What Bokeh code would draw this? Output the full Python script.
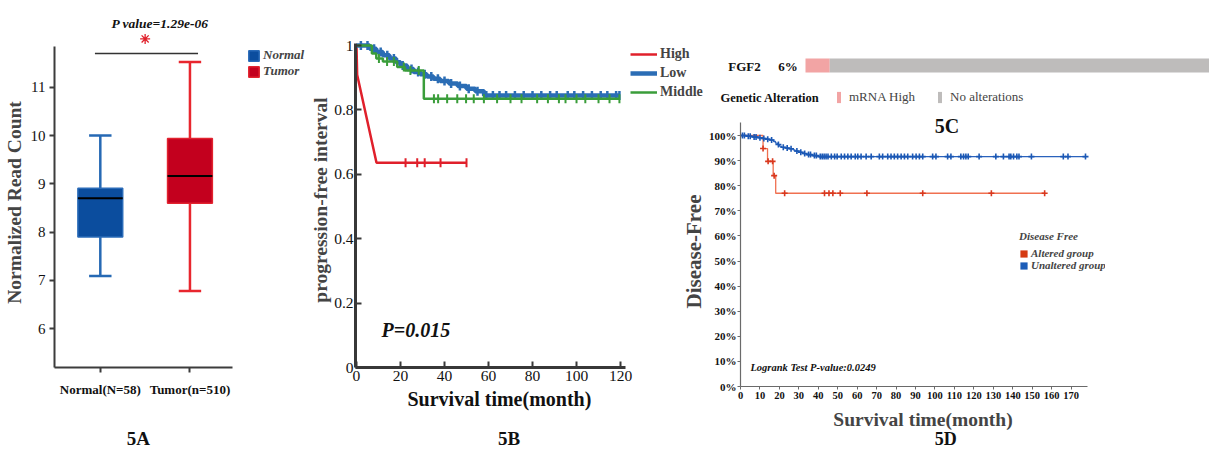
import numpy as np
from bokeh.plotting import figure
from bokeh.models import (Range1d, FixedTicker, Legend, LegendItem, Label, Title,
                          GridBox, ColumnDataSource, PrintfTickFormatter)
from bokeh.embed import file_html
from bokeh.resources import INLINE

SERIF = "Liberation Serif"

# ---------------- 5A: FGF2 expression, normal vs tumour ----------------
expr_groups = ["Normal(N=58)", "Tumor(n=510)"]
expr_names = ["Normal", "Tumor"]
expr_whisker_low = [7.09, 6.78]
expr_q1 = [7.90, 8.60]
expr_median = [8.70, 9.16]
expr_q3 = [8.91, 9.94]
expr_whisker_high = [10.0, 11.52]
expr_yticks = [6, 7, 8, 9, 10, 11]
expr_pvalue = "1.29e-06"

# ---------------- 5B: progression-free interval by FGF2 level ----------------
pfi_high_t = [0, 0.3, 9.1, 50.2]
pfi_high_s = [1.0, 0.909, 0.636, 0.636]
pfi_high_cens = [22.3, 27.6, 31.0, 38.2, 50.0]
pfi_low_t = [0, 6, 9, 12, 15, 18, 20, 23, 26, 29, 32, 35, 38, 42, 46, 50, 54, 58, 119.5]
pfi_low_s = [1.0, 0.99, 0.98, 0.97, 0.96, 0.948, 0.938, 0.927, 0.918, 0.911, 0.904,
             0.897, 0.89, 0.882, 0.874, 0.866, 0.858, 0.845, 0.845]
pfi_low_cens = [2, 5, 8, 11, 14, 17, 21, 25, 28, 31, 34, 37, 40, 43, 47, 51, 55, 59, 62,
                65, 68, 72, 76, 80, 84, 88, 91, 96, 99, 103, 107, 111, 114, 118, 119.5]
pfi_mid_t = [0, 7, 9, 12, 18.5, 22, 30.6, 119.5]
pfi_mid_s = [1.0, 0.975, 0.96, 0.95, 0.933, 0.922, 0.835, 0.835]
pfi_mid_cens = [10.2, 13.9, 17.0, 21.5, 24.5, 28.3, 35.2, 37.1, 41.2, 45.8, 49.8, 53.3,
                57.9, 63.9, 70, 75, 82.1, 87, 92, 95, 100, 104, 110, 115, 119.5]
pfi_groups = ["High", "Low", "Middle"]
pfi_xticks = [0, 20, 40, 60, 80, 100, 120]
pfi_yticks = [0, 0.2, 0.4, 0.6, 0.8, 1]
pfi_p = "P=0.015"

# ---------------- 5C: FGF2 alteration frequency ----------------
onco_gene = "FGF2"
onco_states = ["mRNA High", "No alterations"]
onco_pct = [6, 94]
onco_colors = ["#F2A4A4", "#BEBCBB"]

# ---------------- 5D: disease-free survival, altered vs unaltered ----------------
dfs_groups = ["Altered group", "Unaltered group"]
dfs_alt_t = [0, 11.6, 13.9, 16.8, 18.1, 156.4]
dfs_alt_s = [100, 94.8, 89.7, 84.0, 77.0, 77.0]
dfs_alt_cens = [11.6, 14.2, 16.5, 17.3, 22.7, 43.2, 45.5, 47.5, 51.3, 65.0, 93.7, 129.0, 156.4]
dfs_unalt_t = [0, 3, 6, 9, 11, 13, 15, 17, 18, 19, 20, 21, 23, 25, 27, 28, 30, 32, 34,
               37, 40, 177.4]
dfs_unalt_s = [100, 99.7, 99.4, 99.1, 98.8, 98.5, 98.2, 97.6, 97.0, 96.4, 95.8, 95.3,
               95.0, 94.7, 94.3, 93.8, 93.3, 92.8, 92.4, 92.0, 91.6, 91.6]
dfs_unalt_cens = [1, 2, 4, 5, 7, 8, 10, 12, 14, 16, 19.5, 22, 24, 26, 29, 31, 33, 35, 36,
                  38, 39, 41, 42, 43, 44, 45, 46.7, 48.4, 49.7, 51.8, 53.5, 55.2, 56.9,
                  59, 60.3, 62, 64.6, 67.2, 71.4, 73.1, 75.7, 77.4, 79.1, 80.8, 82.6,
                  84.3, 86, 88.5, 90.3, 92, 93.7, 98.8, 100.5, 106.5, 108.2, 113.3,
                  114.7, 115.9, 117.1, 122.7, 131.3, 135.2, 138.1, 139, 140.4, 142.1,
                  143.2, 149.6, 166, 168.4, 177.4]
dfs_xticks = [0, 10, 20, 30, 40, 50, 60, 70, 80, 90, 100, 110, 120, 130, 140, 150, 160, 170]
dfs_yticks = [0, 10, 20, 30, 40, 50, 60, 70, 80, 90, 100]
dfs_logrank = "0.0249"

panel_tags = ["5A", "5B", "5D"]


def level_at(times, levels, when):
    """Survival level of a step curve at the given times."""
    idx = np.searchsorted(np.asarray(times, float), np.asarray(when, float), side="right") - 1
    return np.asarray(levels, float)[idx]


def base_figure(**kw):
    p = figure(output_backend="svg", toolbar_location=None, **kw)
    p.grid.visible = False
    p.outline_line_color = None
    p.border_fill_alpha = 0
    p.background_fill_alpha = 0
    return p


def caption(p, x, y, text, size="20px", style="bold", align="center"):
    p.add_layout(Label(x=x, y=y, text=text, text_font=SERIF, text_font_size=size,
                       text_font_style=style, text_align=align, text_baseline="middle",
                       text_color="#111111"))


def side_title(p, text, side, offset, standoff, size="20px", style="bold"):
    p.add_layout(Title(text=text, align="left", offset=offset, standoff=standoff,
                       text_font=SERIF, text_font_size=size, text_font_style=style,
                       text_color="#111111"), side)


# =============================== 5A ===============================
expr_x = np.arange(len(expr_groups)) + 0.5
fa = base_figure(width=306, height=428, x_range=Range1d(-0.011, 2.8),
                 y_range=Range1d(5.197, 12.133),
                 min_border_left=53, min_border_right=0, min_border_top=32,
                 min_border_bottom=61)

src_a = ColumnDataSource(dict(
    x=expr_x, xl=expr_x - 0.25, xr=expr_x + 0.25, cl=expr_x - 0.125, cr=expr_x + 0.125,
    wl=expr_whisker_low, q1=expr_q1, med=expr_median, q3=expr_q3, wh=expr_whisker_high,
    fill=["#0B4D9E", "#C3001E"], edge=["#2A6BB8", "#E2232F"], whisk=["#2669B4", "#E8262E"]))

fa.segment(x0="x", y0="q3", x1="x", y1="wh", line_color="whisk", line_width=2.5, source=src_a)
fa.segment(x0="x", y0="q1", x1="x", y1="wl", line_color="whisk", line_width=2.5, source=src_a)
for end in ("wh", "wl"):
    fa.segment(x0="cl", x1="cr", y0=end, y1=end, line_color="whisk", line_width=2.5, source=src_a)
r_box = fa.vbar(x="x", width=0.5, bottom="q1", top="q3", fill_color="fill",
                line_color="edge", line_width=1.5, source=src_a)
fa.segment(x0="xl", x1="xr", y0="med", y1="med", line_color="black", line_width=2, source=src_a)

# significance bracket between the two groups
fa.segment(x0=[expr_x[0] - 0.06], x1=[expr_x[1] + 0.09], y0=[11.7], y1=[11.7],
           line_color="#333333", line_width=1.5)
fa.scatter(x=[expr_x.mean()], y=[12.0], marker="asterisk", size=10,
           line_color="#E0202B", line_width=1.3)
side_title(fa, "P value=" + expr_pvalue, "above", offset=57, standoff=3,
           size="13.5px", style="bold italic")

fa.xaxis.ticker = FixedTicker(ticks=list(expr_x))
fa.xaxis.major_label_overrides = {float(x): g for x, g in zip(expr_x, expr_groups)}
fa.xaxis.bounds = (-0.011, 1.978)
fa.yaxis.ticker = FixedTicker(ticks=expr_yticks)
fa.yaxis.bounds = (5.197, 11.84)
fa.yaxis.axis_label = "Normalized  Read Count"
for ax in (fa.xaxis[0], fa.yaxis[0]):
    ax.axis_line_width = 2
    ax.axis_line_color = "#3c3c3c"
    ax.major_tick_line_color = "#3c3c3c"
    ax.major_tick_line_width = 2
    ax.major_tick_out = 5
    ax.major_tick_in = 0
    ax.minor_tick_line_color = None
    ax.major_label_text_font = SERIF
    ax.major_label_text_color = "#111111"
    ax.axis_label_text_font = SERIF
    ax.axis_label_text_font_style = "bold"
fa.yaxis.major_label_text_font_size = "15px"
fa.yaxis.major_label_standoff = 4
fa.yaxis.axis_label_text_font_size = "19.5px"
fa.yaxis.axis_label_standoff = 3
fa.xaxis.major_label_text_font_size = "13px"
fa.xaxis.major_label_text_font_style = "bold"
fa.xaxis.major_label_standoff = 9

leg_a = Legend(items=[LegendItem(label=expr_names[i], renderers=[r_box], index=i) for i in range(2)],
               location=(193, 288), glyph_width=13, glyph_height=13, label_height=10,
               label_standoff=3, spacing=0, padding=0, margin=0, border_line_color=None,
               background_fill_alpha=0, label_text_font=SERIF, label_text_font_size="13px",
               label_text_font_style="bold italic")
fa.add_layout(leg_a)

# =============================== 5B ===============================
fb = base_figure(width=406, height=428, x_range=Range1d(-0.45, 161.8), y_range=Range1d(0, 1.0404),
                 min_border_left=49, min_border_right=0, min_border_top=32, min_border_bottom=61)
red_b, blue_b, green_b = "#E0202B", "#2B6DB5", "#3A9D3A"

r_high = fb.line(pfi_high_t, pfi_high_s, line_color=red_b, line_width=2.5)
fb.scatter(pfi_high_cens, level_at(pfi_high_t, pfi_high_s, pfi_high_cens), marker="dash",
           angle=np.pi / 2, size=9, line_color=red_b, line_width=2)
r_low = fb.step(pfi_low_t, pfi_low_s, mode="after", line_color=blue_b, line_width=4.5)
fb.scatter(pfi_low_cens, level_at(pfi_low_t, pfi_low_s, pfi_low_cens), marker="dash",
           angle=np.pi / 2, size=9, line_color=blue_b, line_width=2.5)
r_mid = fb.step(pfi_mid_t, pfi_mid_s, mode="after", line_color=green_b, line_width=2.5)
fb.scatter(pfi_mid_cens, level_at(pfi_mid_t, pfi_mid_s, pfi_mid_cens), marker="dash",
           angle=np.pi / 2, size=9, line_color=green_b, line_width=2)

fb.xaxis.ticker = FixedTicker(ticks=pfi_xticks)
fb.xaxis.bounds = (-0.45, 122.3)
fb.yaxis.ticker = FixedTicker(ticks=pfi_yticks)
fb.yaxis.bounds = (0, 1.006)
fb.yaxis.major_label_overrides = {0: "0", 1: "1"}
fb.yaxis.axis_label = "progression-free interval"
for ax in (fb.xaxis[0], fb.yaxis[0]):
    ax.axis_line_width = 3
    ax.axis_line_color = "#383838"
    ax.major_tick_line_color = "#383838"
    ax.major_tick_line_width = 2
    ax.major_tick_in = 6
    ax.major_tick_out = 0
    ax.minor_tick_line_color = None
    ax.major_label_text_font = SERIF
    ax.major_label_text_font_size = "15.5px"
    ax.major_label_text_color = "#111111"
    ax.major_label_standoff = 3
    ax.axis_label_text_font = SERIF
    ax.axis_label_text_font_style = "bold"
    ax.axis_label_text_font_size = "19.5px"
fb.yaxis.major_label_standoff = 2
fb.yaxis.axis_label_standoff = 0
# x-axis title placed under the bounded axis line
side_title(fb, "Survival time(month)", "below", offset=52, standoff=4, size="20px")

caption(fb, 11.4, 0.115, pfi_p, style="bold italic", align="left")

leg_b = Legend(items=[LegendItem(label=n, renderers=[r]) for n, r in zip(pfi_groups, (r_high, r_low, r_mid))],
               location=(275, 267), glyph_width=27, glyph_height=14, label_height=10,
               label_standoff=3, spacing=3, padding=0, margin=0, border_line_color=None,
               background_fill_alpha=0, label_text_font=SERIF, label_text_font_size="14px",
               label_text_font_style="bold")
fb.add_layout(leg_b)

# =============================== 5C ===============================
fc = base_figure(width=497, height=109, x_range=Range1d(-23.02, 100), y_range=Range1d(110, 1),
                 x_axis_location=None, y_axis_location=None, min_border=0)
onco_right = np.cumsum(onco_pct)
onco_left = onco_right - np.asarray(onco_pct)
src_c = ColumnDataSource(dict(state=onco_states, left=onco_left, right=onco_right,
                              color=onco_colors, y=[65, 65]))
r_onco = fc.hbar(y="y", left="left", right="right", height=14, fill_color="color",
                 line_color=None, source=src_c)
caption(fc, -15.1, 66, onco_gene, size="13px")
caption(fc, -4.33, 66, f"{onco_pct[0]}%", size="13px")
caption(fc, -21.04, 97.5, "Genetic Alteration", size="12.5px", align="left")
leg_c = Legend(items=[LegendItem(label=onco_states[i], renderers=[r_onco], index=i) for i in range(2)],
               orientation="horizontal", location=(124, 5), glyph_width=5, glyph_height=14,
               label_height=10, label_standoff=8, spacing=22, padding=0, margin=0,
               border_line_color=None, background_fill_alpha=0, label_text_font=SERIF,
               label_text_font_size="13px")
fc.add_layout(leg_c)

# =============================== 5D ===============================
fd = base_figure(width=532, height=340, x_range=Range1d(0, 187.69), y_range=Range1d(0, 107.57),
                 min_border_left=61, min_border_right=105, min_border_top=6, min_border_bottom=64)
alt_line, alt_mark = "#F07050", "#D9381E"
una_line, una_mark = "#2A62BC", "#1B58B5"
fd.step(dfs_alt_t, dfs_alt_s, mode="after", line_color=alt_line, line_width=1.3)
fd.scatter(dfs_alt_cens, level_at(dfs_alt_t, dfs_alt_s, dfs_alt_cens), marker="cross",
           size=6, line_color=alt_mark, line_width=1.6)
fd.step(dfs_unalt_t, dfs_unalt_s, mode="after", line_color=una_line, line_width=1.3)
fd.scatter(dfs_unalt_cens, level_at(dfs_unalt_t, dfs_unalt_s, dfs_unalt_cens), marker="cross",
           size=6, line_color=una_mark, line_width=1.6)

# legend swatches: zero-size quads carrying the group colours
sw_alt = fd.quad(left=[0], right=[0], top=[0], bottom=[0], fill_color="#D53A12", line_color=None)
sw_una = fd.quad(left=[0], right=[0], top=[0], bottom=[0], fill_color="#1B5CB8", line_color=None)
leg_d = Legend(items=[LegendItem(label=dfs_groups[0], renderers=[sw_alt]),
                      LegendItem(label=dfs_groups[1], renderers=[sw_una])],
               title="Disease Free", location=(279, 115), glyph_width=9, glyph_height=9,
               label_height=9, label_standoff=3, spacing=0, padding=0, margin=0,
               border_line_color=None, background_fill_alpha=0, label_text_font=SERIF,
               label_text_font_size="11px", label_text_font_style="bold italic",
               title_text_font=SERIF, title_text_font_size="11px",
               title_text_font_style="bold italic", title_standoff=5)
fd.add_layout(leg_d)

fd.xaxis.ticker = FixedTicker(ticks=dfs_xticks)
fd.xaxis.bounds = (0, 178.5)
fd.yaxis.ticker = FixedTicker(ticks=dfs_yticks)
fd.yaxis.bounds = (0, 105.2)
fd.yaxis.formatter = PrintfTickFormatter(format="%d%%")
fd.xaxis.axis_label = "Survival time(month)"
fd.yaxis.axis_label = "Disease-Free"
for ax in (fd.xaxis[0], fd.yaxis[0]):
    ax.axis_line_width = 1.2
    ax.axis_line_color = "#6a6a6a"
    ax.major_tick_line_color = "#6a6a6a"
    ax.major_tick_in = 0
    ax.major_tick_out = 3
    ax.minor_tick_line_color = None
    ax.major_label_text_font = SERIF
    ax.major_label_text_font_style = "bold"
    ax.major_label_text_color = "#111111"
    ax.axis_label_text_font = SERIF
    ax.axis_label_text_font_style = "bold"
fd.xaxis.major_label_text_font_size = "10.5px"
fd.xaxis.major_label_standoff = 2
fd.xaxis.axis_label_text_font_size = "19.5px"
fd.xaxis.axis_label_standoff = 7
fd.yaxis.major_label_text_font_size = "11px"
fd.yaxis.major_label_standoff = 1
fd.yaxis.axis_label_text_font_size = "21px"
fd.yaxis.axis_label_standoff = 0

caption(fd, 106.2, 103.6, "5C")
caption(fd, 5.1, 7.6, "Logrank Test P-value:" + dfs_logrank, size="10.5px", style="bold italic", align="left")

# ====================== panel tags along the bottom ======================
fs = base_figure(width=1210, height=21, x_range=Range1d(53, 1105), y_range=Range1d(449, 428),
                 x_axis_location=None, y_axis_location=None, min_border=0,
                 min_border_left=53, min_border_right=105)
for tag, tx, ts in zip(panel_tags, [137, 508, 945], ["19px", "19px", "18px"]):
    caption(fs, tx, 438, tag, size=ts)

# thin spacer tracks keep each panel's borders independent of its neighbours
layout = GridBox(children=[(fa, 0, 0, 4, 1), (fb, 0, 1, 4, 2), (fc, 1, 3, 1, 1),
                           (fd, 2, 2, 4, 3), (fs, 4, 0, 1, 5)],
                 rows=["1px", "109px", "317px", "1px", "21px", "1px"],
                 cols=["306px", "372px", "34px", "497px", "1px"], spacing=0)

open("out.html", "w").write(file_html(layout, INLINE))
